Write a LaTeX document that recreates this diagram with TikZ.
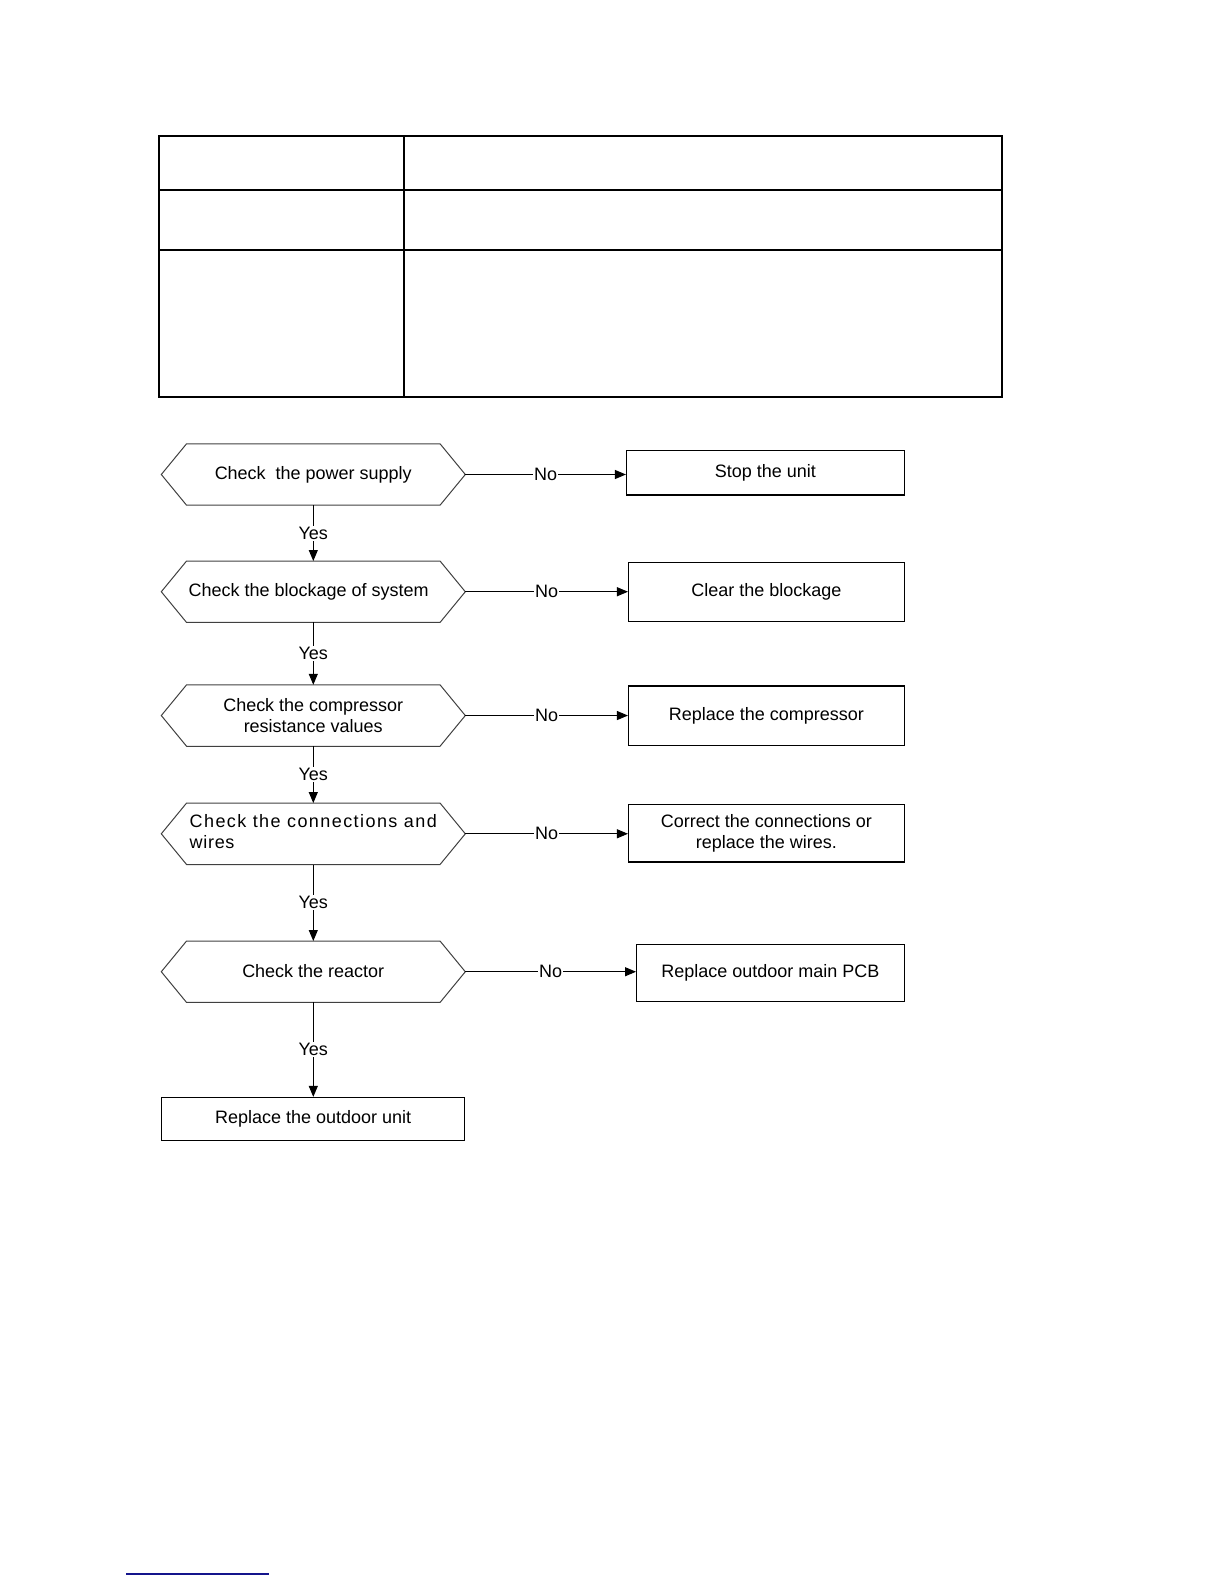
\documentclass[tikz,border=0pt]{standalone}
\usepackage{fontspec}
\setmainfont{Liberation Sans}
\usetikzlibrary{arrows.meta}
\definecolor{linkblue}{RGB}{20,20,140}
\newcommand\hexframe[1]{\draw[hexline] (#1.west) -- ([xshift=12.5pt]#1.north west) -- ([xshift=-12.5pt]#1.north east) -- (#1.east) -- ([xshift=-12.5pt]#1.south east) -- ([xshift=12.5pt]#1.south west) -- cycle;}
\begin{document}
\begin{tikzpicture}[x=0.5pt,y=-0.5pt,
  font=\fontsize{8.9}{10.5}\selectfont,
  tbl/.style={line width=1pt},
  hexnode/.style={inner sep=0pt, minimum width=150pt, minimum height=30pt, align=center},
  boxnode/.style={draw, line width=0.65pt, inner sep=0pt, align=center},
  conn/.style={line width=0.5pt, -{Triangle[length=5.5pt,width=4.5pt]}},
  lbl/.style={fill=white, inner sep=0.6pt},
  hexline/.style={draw=black!75, line width=0.5pt},
  linkline/.style={draw=linkblue, line width=1pt}]
\useasboundingbox (0,0) rectangle (1224,1584);
\begin{scope}[scale=1.0104, transform shape]
% table
\draw[tbl] (157,135) rectangle (992,393);
\draw[tbl] (400,135) -- (400,393);
\draw[tbl] (157,188) -- (992,188);
\draw[tbl] (157,247) -- (992,247);
% decision hexagons
\node[hexnode] (h1) at (310,469.5) {Check\ \ the power supply};
\node[hexnode] (h2) at (310,585.5) {\hspace*{-4.5pt}Check the blockage of system};
\node[hexnode] (h3) at (310,708) {Check the compressor\\resistance values};
\node[hexnode] (h4) at (310,825) {\begin{tabular}{@{}l@{}}\addfontfeatures{LetterSpace=8}Check the connections and\\\addfontfeatures{LetterSpace=4}wires\end{tabular}};
\node[hexnode] (h5) at (310,961.5) {Check the reactor};
\hexframe{h1}\hexframe{h2}\hexframe{h3}\hexframe{h4}\hexframe{h5}
% action boxes
\node[boxnode, minimum width=137.5pt, minimum height=22pt] (r1) at (757.5,468) {Stop the unit};
\node[boxnode, minimum width=136.5pt, minimum height=29pt] (r2) at (758.5,586) {Clear the blockage};
\node[boxnode, minimum width=136.5pt, minimum height=29.5pt] (r3) at (758.5,708.5) {Replace the compressor};
\node[boxnode, minimum width=136.5pt, minimum height=28.5pt] (r4) at (758.5,824.5) {Correct the connections or\\replace the wires.};
\node[boxnode, minimum width=132.5pt, minimum height=28pt] (r5) at (762.5,963) {Replace outdoor main PCB};
\node[boxnode, minimum width=150pt, minimum height=21.5pt] (b1) at (310,1107.5) {Replace the outdoor unit};
% No connectors
\draw[conn] (h1.east) -- (h1.east -| r1.west) node[midway, lbl] {No};
\draw[conn] (h2.east) -- (h2.east -| r2.west) node[midway, lbl] {No};
\draw[conn] (h3.east) -- (h3.east -| r3.west) node[midway, lbl] {No};
\draw[conn] (h4.east) -- (h4.east -| r4.west) node[midway, lbl] {No};
\draw[conn] (h5.east) -- (h5.east -| r5.west) node[midway, lbl] {No};
% Yes connectors
\draw[conn] (h1.south) -- (h2.north) node[midway, lbl] {Yes};
\draw[conn] (h2.south) -- (h3.north) node[midway, lbl] {Yes};
\draw[conn] (h3.south) -- (h4.north) node[midway, lbl] {Yes};
\draw[conn] (h4.south) -- (h5.north) node[midway, lbl] {Yes};
\draw[conn] (h5.south) -- (b1.north) node[midway, lbl] {Yes};
% footer rule
\draw[linkline] (125,1558) -- (266,1558);
\end{scope}
\end{tikzpicture}
\end{document}
